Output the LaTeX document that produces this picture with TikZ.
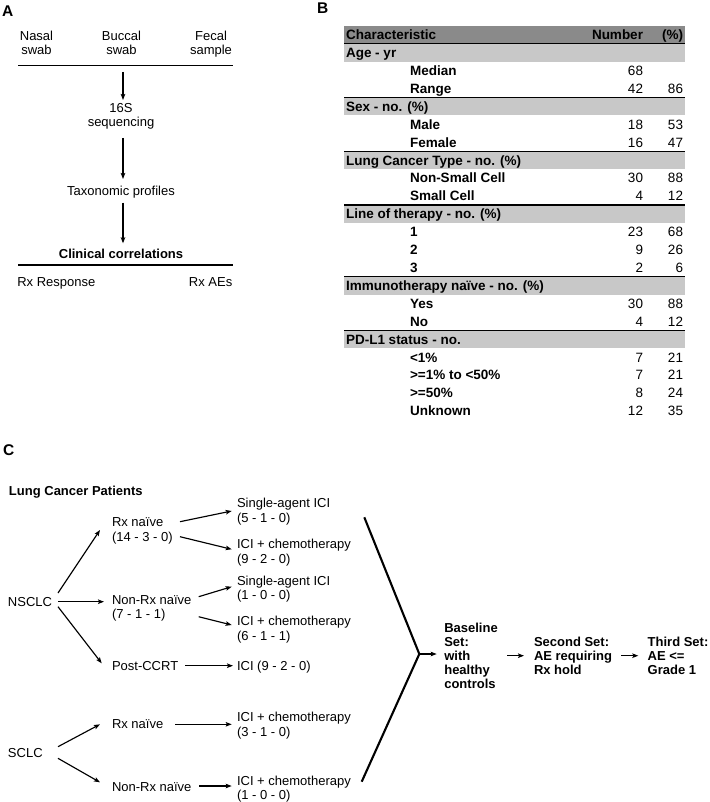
\documentclass[tikz,border=0pt]{standalone}
\usepackage{fontspec}
\setmainfont{Liberation Sans}
\usetikzlibrary{arrows.meta,calc}
\definecolor{dgray}{HTML}{8A8A8A}
\definecolor{lgray}{HTML}{C8C8C8}
\begin{document}
\begin{tikzpicture}[x=1pt,y=-1pt,
  every node/.style={inner sep=0pt, outer sep=0pt},
  txt/.style={font=\fontsize{13}{14.3}\selectfont},
  txtb/.style={font=\fontsize{13}{13.9}\selectfont\bfseries},
  tb/.style={font=\fontsize{13.5}{15}\selectfont},
  tbb/.style={font=\fontsize{13.5}{15}\selectfont\bfseries},
  lbl/.style={font=\fontsize{15.5}{17}\selectfont\bfseries},
  arr/.style={-{Stealth[length=6pt,width=4.5pt,inset=1.2pt]}, line width=1.15pt},
  rulel/.style={line width=1.5pt},
  tline/.style={line width=1.2pt},
  vline/.style={line width=2.1pt},
  ]
\useasboundingbox (0,0) rectangle (709,802);
\fill[white] (0,0) rectangle (709,802);

% ---------------- Panel A ----------------
\node[lbl, anchor=base west] (labA) at (2,17) {A};
\node[txt, align=center, anchor=north] (nasal) at (36.5,31) {Nasal\\swab};
\node[txt, align=center, anchor=north] (buccal) at (121.5,31) {Buccal\\swab};
\node[txt, align=center, anchor=north] (fecal) at (211,31) {Fecal\\sample};
\draw[rulel] (18,65.7) -- (232.7,65.7);
\node[txt, align=center, anchor=north] (seq) at (121,103.5) {16S\\sequencing};
\node[txt, anchor=base] (tax) at (121,195.4) {Taxonomic profiles};
\node[txtb, anchor=base] (clin) at (121,258.7) {Clinical correlations};
\draw[rulel] (18,265) -- (232.7,265);
\node[txt, anchor=base west] (rxr) at (17.3,286.4) {Rx Response};
\node[txt, anchor=base east] (rxae) at (232.3,286.4) {Rx AEs};
\draw[arr] ($(buccal.south)+(1.5,17)$) -- ($(seq.north)+(2,-3.5)$);
\draw[arr] ($(seq.south)+(2,8.2)$) -- ($(tax.base)+(2,-16.4)$);
\draw[arr] ($(tax.base)+(2,7.3)$) -- ($(clin.base)+(2,-15.4)$);

% ---------------- Panel B ----------------
\node[lbl, anchor=base west] (labB) at (317,13.5) {B};
\fill[dgray] (344,26) rectangle (685,43.9);
\foreach \i in {1,4,7,10,14,17} {
  \fill[lgray] (344,{26+17.9*\i}) rectangle (685,{26+17.9*(\i+1)});
}
\foreach \i in {1,4,7,10,14,17} {
  \draw[tline] (344,{26+17.9*\i}) -- (685,{26+17.9*\i});
}
\node[tbb, anchor=base west] (hchar) at (346,39.8) {Characteristic};
\node[tbb, anchor=base east] (hnum) at (643,39.8) {Number};
\node[tbb, anchor=base east] (hpct) at (683,39.8) {(\%)};
\foreach \i/\lab in {1/Age - yr, 4/Sex - no. (\%), 7/Lung Cancer Type - no. (\%),
  10/Line of therapy - no. (\%), 14/Immunotherapy naïve - no. (\%), 17/PD-L1 status - no.} {
  \pgfmathsetmacro\yb{35+17.9*\i+4.8}
  \node[tbb, anchor=base west] (grp\i) at (346,\yb) {\lab};
}
\node[tbb, anchor=base west] (lab2) at (410,{35+17.9*2+4.8}) {Median};
\node[tb, anchor=base east] (num2) at (643,{35+17.9*2+4.8}) {68};
\foreach \i/\lab/\n/\p in {3/Range/42/86, 5/Male/18/53, 6/Female/16/47,
  8/Non-Small Cell/30/88, 9/Small Cell/4/12, 11/1/23/68, 12/2/9/26, 13/3/2/6,
  15/Yes/30/88, 16/No/4/12, 18/<1\%/7/21, 19/>=1\% to <50\%/7/21,
  20/>=50\%/8/24, 21/Unknown/12/35} {
  \pgfmathsetmacro\yb{35+17.9*\i+4.8}
  \node[tbb, anchor=base west] (lab\i) at (410,\yb) {\lab};
  \node[tb, anchor=base east] (num\i) at (643,\yb) {\n};
  \node[tb, anchor=base east] (pct\i) at (683,\yb) {\p};
}

% ---------------- Panel C ----------------
\node[lbl, anchor=base west] (labC) at (3,455) {C};
\node[txtb, anchor=base west] (lcp) at (9,495.7) {Lung Cancer Patients};
\node[txt, anchor=base west] (nsclc) at (8,606.4) {NSCLC};
\node[txt, anchor=base west] (sclc) at (8,757.7) {SCLC};
\node[txt, align=left, anchor=north west] (rxn1) at (112,518) {Rx naïve\\(14 - 3 - 0)};
\node[txt, align=left, anchor=north west] (nrxn1) at (112,595.3) {Non-Rx naïve\\(7 - 1 - 1)};
\node[txt, anchor=base west] (post) at (112,670.4) {Post-CCRT};
\node[txt, anchor=base west] (rxn2) at (112,728.7) {Rx naïve};
\node[txt, anchor=base west] (nrxn2) at (112,791.4) {Non-Rx naïve};
\node[txt, align=left, anchor=north west] (sa1) at (237,498.3) {Single-agent ICI\\(5 - 1 - 0)};
\node[txt, align=left, anchor=north west] (ic1) at (237,539.3) {ICI + chemotherapy\\(9 - 2 - 0)};
\node[txt, align=left, anchor=north west] (sa2) at (237,576) {Single-agent ICI\\(1 - 0 - 0)};
\node[txt, align=left, anchor=north west] (ic2) at (237,616.3) {ICI + chemotherapy\\(6 - 1 - 1)};
\node[txt, anchor=base west] (ici3) at (237,670.4) {ICI (9 - 2 - 0)};
\node[txt, align=left, anchor=north west] (ic3) at (237,712.3) {ICI + chemotherapy\\(3 - 1 - 0)};
\node[txt, align=left, anchor=north west] (ic4) at (237,776) {ICI + chemotherapy\\(1 - 0 - 0)};

\draw[arr] ($(nsclc.base west)+(50,-13.4)$) -- ($(rxn1.north west)+(-12,12)$);
\draw[arr] ($(nsclc.base west)+(50,-4.7)$) -- ($(nrxn1.north west)+(-8,6.4)$);
\draw[arr] ($(nsclc.base west)+(50,0.3)$) -- ($(post.base west)+(-10.3,-7.1)$);
\draw[arr] ($(rxn1.north west)+(68,3.7)$) -- ($(sa1.north west)+(-5.3,12.7)$);
\draw[arr] ($(rxn1.north west)+(68,18.7)$) -- ($(ic1.north west)+(-5.3,10)$);
\draw[arr] ($(nrxn1.north west)+(86.7,1.4)$) -- ($(sa2.north west)+(-5.3,10.7)$);
\draw[arr] ($(nrxn1.north west)+(86.7,21.4)$) -- ($(ic2.north west)+(-5.3,8.7)$);
\draw[arr] ($(post.base west)+(73,-4.7)$) -- ($(ici3.base west)+(-4,-4.7)$);
\draw[arr] ($(sclc.base west)+(50,-11)$) -- ($(rxn2.base west)+(-12,-4.4)$);
\draw[arr] ($(sclc.base west)+(50,0.6)$) -- ($(nrxn2.base west)+(-12,-9.1)$);
\draw[arr] ($(rxn2.base west)+(63,-4.4)$) -- ($(ic3.north west)+(-5.3,12)$);
\draw[arr] ($(nrxn2.base west)+(87.3,-5.4)$) -- ($(ic4.north west)+(-5.3,10)$);

\coordinate (vtop) at (364.3,517.3);
\coordinate (vtx) at (419.3,654);
\coordinate (vbot) at (361.7,781.7);
\draw[vline, line join=miter] (vtop) -- (vtx) -- (vbot);

\node[txtb, align=left, anchor=north west] (basen) at (444.3,623) {Baseline\\Set:\\with\\healthy\\controls};
\node[txtb, align=left, anchor=north west] (second) at (534,637) {Second Set:\\AE requiring\\Rx hold};
\node[txtb, align=left, anchor=north west] (third) at (647.7,637) {Third Set:\\AE <=\\Grade 1};
\draw[arr] (vtx) -- ($(basen.north west)+(-7.6,31)$);
\draw[arr] ($(basen.north west)+(63,32.7)$) -- ($(second.north west)+(-10,18.7)$);
\draw[arr] ($(second.north west)+(87,18.7)$) -- ($(third.north west)+(-9.4,18.7)$);
\end{tikzpicture}
\end{document}
